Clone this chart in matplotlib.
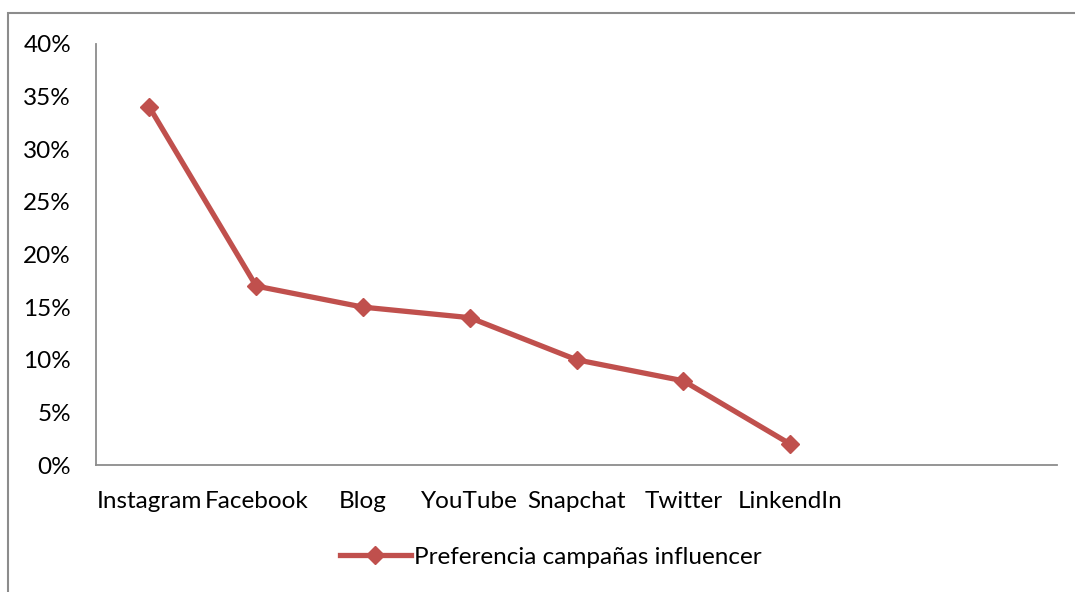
import matplotlib.pyplot as plt
import matplotlib.patches as patches
from matplotlib.ticker import PercentFormatter

# Data
categories = ['Instagram', 'Facebook', 'Blog', 'YouTube', 'Snapchat', 'Twitter', 'LinkendIn', '', '']
values = [34, 17, 15, 14, 10, 8, 2]
series_name = 'Preferencia campañas influencer'

plt.rcParams['font.family'] = ['Lato', 'DejaVu Sans']

fig = plt.figure(figsize=(10.75, 5.92), dpi=100)
ax = fig.add_axes([96 / 1075, 1 - 465 / 592, (1057 - 96) / 1075, (465 - 44) / 592])

# outer chart-area border
fig.patches.append(patches.Rectangle((8 / 1075, -0.1), 1.2, 1.1 - 13 / 592,
                                     transform=fig.transFigure, fill=False,
                                     edgecolor='#8c8c8c', linewidth=1.5))

color = '#C0504D'
ax.plot(range(len(values)), values, color=color, linewidth=3.8, marker='D',
        markersize=9, label=series_name)

ax.set_xlim(-0.5, len(categories) - 0.5)
ax.set_ylim(0, 40)
ax.set_yticks(range(0, 41, 5))
ax.yaxis.set_major_formatter(PercentFormatter(decimals=0))
ax.set_xticks(range(len(categories)))
ax.set_xticklabels(categories)

for s in ['top', 'right']:
    ax.spines[s].set_visible(False)
for s in ['left', 'bottom']:
    ax.spines[s].set_color('#8c8c8c')
    ax.spines[s].set_linewidth(1.3)
ax.tick_params(length=0, labelsize=17.5)
ax.tick_params(axis='y', pad=18)
ax.tick_params(axis='x', pad=18.5)

fig.legend(loc='center', bbox_to_anchor=(551 / 1075, 1 - 557 / 592), frameon=False,
           fontsize=17.5, handlelength=2.9, handletextpad=0.15)

fig.savefig('out.png', dpi=100)
